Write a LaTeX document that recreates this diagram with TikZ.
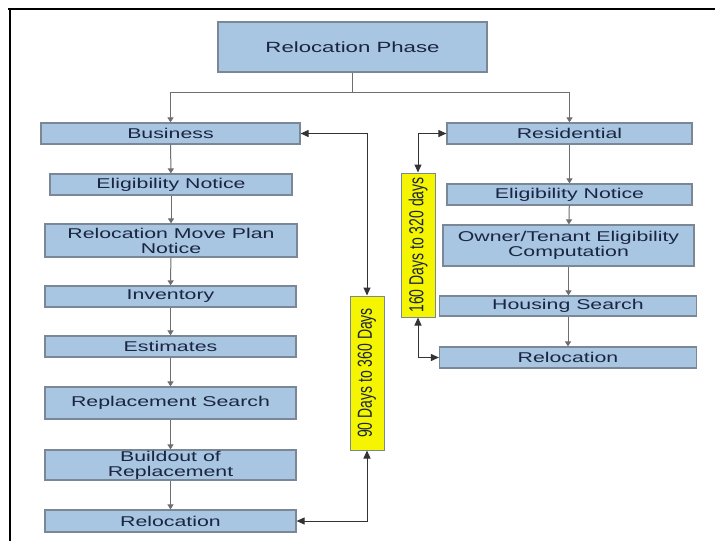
\documentclass[tikz,border=0pt]{standalone}
\usepackage{fontspec}
\setmainfont[FakeStretch=1.5]{Liberation Sans}
\newfontfamily\plainsans{Liberation Sans}
\usetikzlibrary{arrows.meta}
\definecolor{boxfill}{HTML}{A8C5E2}
\definecolor{boxdraw}{HTML}{7A8796}
\definecolor{boxtext}{HTML}{1A2540}
\definecolor{linkgray}{HTML}{6E6E6E}
\definecolor{yel}{HTML}{F5F500}
\tikzset{
  stepbox/.style={draw=boxdraw, line width=1.2pt, fill=boxfill, text=boxtext,
    inner sep=0pt, align=center, font=\fontsize{14.2}{15}\selectfont},
  yelbox/.style={draw=boxdraw, line width=1pt, fill=yel, text=boxtext, inner sep=0pt,
    minimum width=34pt},
  flow/.style={draw=linkgray, line width=1pt, -{Triangle[length=5pt,width=6pt]}},
  span/.style={draw=black!80, line width=1pt, {Triangle[length=8pt,width=7pt]}-{Triangle[length=8pt,width=7pt]}}
}
\begin{document}
\begin{tikzpicture}[x=1pt,y=-1pt]
\useasboundingbox[fill=white] (0,0) rectangle (715,541);
\draw[line width=2pt] (8,9) -- (715,9);
\draw[line width=2pt] (10,8) -- (10,541);

\node[stepbox, minimum width=269pt, minimum height=50pt, font=\fontsize{14.8}{16}\selectfont] (top) at (352.5,47) {Relocation Phase};

% business column
\node[stepbox, minimum width=259pt, minimum height=21pt] (biz) at (170.5,133.5) {Business};
\node[stepbox, minimum width=242pt, minimum height=21pt] (eln) at (171,184.5) {Eligibility Notice};
\node[stepbox, minimum width=252pt, minimum height=33pt] (rmp) at (171,240.5) {Relocation Move Plan\\Notice};
\node[stepbox, minimum width=251pt, minimum height=21pt] (inv) at (170.5,296.5) {Inventory};
\node[stepbox, minimum width=251pt, minimum height=21pt] (est) at (170.5,346.5) {Estimates};
\node[stepbox, minimum width=251pt, minimum height=32pt] (rps) at (170.5,403) {Replacement Search};
\node[stepbox, minimum width=251pt, minimum height=30pt] (bld) at (170.5,465) {Buildout of\\Replacement};
\node[stepbox, minimum width=251pt, minimum height=22pt] (rel) at (170.5,521) {Relocation};

% residential column
\node[stepbox, minimum width=245pt, minimum height=21pt] (res) at (569.5,133.5) {Residential};
\node[stepbox, minimum width=245pt, minimum height=21pt] (eln2) at (569.5,194.5) {Eligibility Notice};
\node[stepbox, minimum width=251pt, minimum height=41pt] (own) at (568.5,245.5) {Owner/Tenant Eligibility\\Computation};
\node[stepbox, minimum width=257pt, minimum height=20pt] (hs) at (568,306) {Housing Search};
\node[stepbox, minimum width=257pt, minimum height=21pt] (rel2) at (568,357.5) {Relocation};

% yellow duration boxes
\node[yelbox, minimum height=154pt] (y1) at (367,373) {\rotatebox{90}{\scalebox{1}[1.45]{\plainsans\fontsize{14}{15}\selectfont 90 Days to 360 Days}}};
\node[yelbox, minimum height=144pt] (y2) at (418,245) {\rotatebox{90}{\scalebox{1}[1.45]{\plainsans\fontsize{14}{15}\selectfont 160 Days to 320 days}}};

% top split
\coordinate (j) at (352.5,92);
\draw[draw=linkgray, line width=1pt] (top.south) -- (j);
\draw[flow] (j) -| (biz.north);
\draw[flow] (j) -| (res.north);

% left flow
\draw[flow] (biz) -- (eln);
\draw[flow] (eln) -- (rmp);
\draw[flow] (rmp) -- (inv);
\draw[flow] (inv) -- (est);
\draw[flow] (est) -- (rps);
\draw[flow] (rps) -- (bld);
\draw[flow] (bld) -- (rel);

% right flow
\draw[flow] (res.south -| eln2.north) -- (eln2.north);
\draw[flow] (eln2) -- (own);
\draw[flow] (own.south) -- (own.south |- hs.north);
\draw[flow] (hs.south) -- (hs.south |- rel2.north);

% duration spans
\draw[span] (biz.east) -| (y1.north);
\draw[span] (rel.east) -| (y1.south);
\draw[span] (res.west) -| (y2.north);
\draw[span] (rel2.west) -| (y2.south);
\end{tikzpicture}
\end{document}
